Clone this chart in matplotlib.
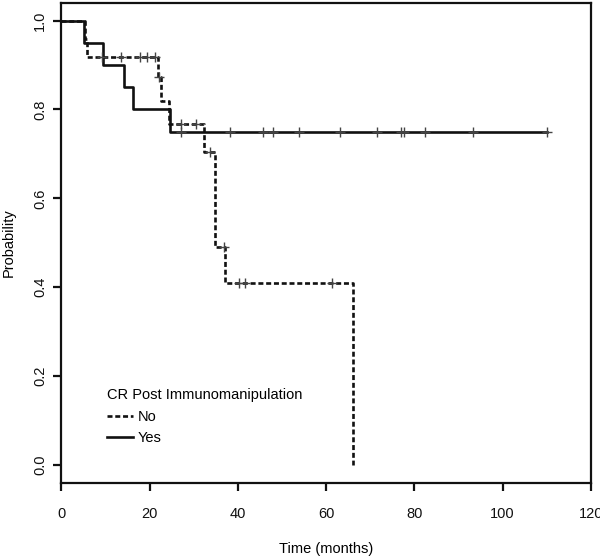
import numpy as np
import matplotlib
matplotlib.use('Agg')
import matplotlib.pyplot as plt

plt.rcParams['font.family'] = ['Liberation Sans', 'DejaVu Sans']
plt.rcParams['lines.scale_dashes'] = False

# Kaplan-Meier steps
no_times = [5.3, 5.8, 21.9, 22.5, 24.4, 32.3, 34.8, 37.1, 66.0]
no_surv = [0.958, 0.917, 0.873, 0.82, 0.768, 0.704, 0.49, 0.41, 0.0]
no_cens = [9.1, 13.4, 17.7, 19.5, 21.2, 22.2, 27.2, 30.6, 33.6, 36.8,
           40.2, 41.6, 61.4]

yes_times = [5.1, 9.3, 14.2, 16.1, 24.7]
yes_surv = [0.95, 0.90, 0.85, 0.80, 0.75]
yes_end = 110.0
yes_cens = [27.2, 38.3, 45.8, 48.0, 53.9, 63.2, 71.5, 76.9, 77.6, 82.4,
            93.2, 110.0]

x_ticks = [0, 20, 40, 60, 80, 100, 120]
y_ticks = [0.0, 0.2, 0.4, 0.6, 0.8, 1.0]


def surv_at(t, times, surv):
    vals = [1.0] + list(surv)
    idx = np.searchsorted(times, t, side='right')
    return [vals[i] for i in idx]


fig = plt.figure(figsize=(6.0, 5.57), dpi=100)
ax = fig.add_axes([0.1025, 0.133, 0.882, 0.862])

ln_no, = ax.step([0] + no_times, [1.0] + no_surv, where='post',
                 color='#111111', lw=1.9, dashes=(3.6, 2.0))
ln_yes, = ax.step([0] + yes_times + [yes_end], [1.0] + yes_surv + [yes_surv[-1]],
                  where='post', color='#111111', lw=1.9)

ax.plot(no_cens, surv_at(no_cens, no_times, no_surv), ls='none', marker='+',
        ms=7.5, mew=1.0, color='#444444')
ax.plot(yes_cens, surv_at(yes_cens, yes_times, yes_surv), ls='none', marker='+',
        ms=7.5, mew=1.0, color='#444444')

ax.set_xlim(0, 120)
ax.set_ylim(-0.04, 1.04)
ax.set_xticks(x_ticks)
ax.set_xticklabels([str(v) for v in x_ticks])
ax.set_yticks(y_ticks)
ax.set_yticklabels(['%.1f' % v for v in y_ticks], rotation=90, va='center')

for s in ax.spines.values():
    s.set_linewidth(1.6)
    s.set_color('#111111')
ax.tick_params(axis='both', direction='out', length=5.5, width=1.6,
               colors='#111111', labelsize=10.5)
ax.tick_params(axis='x', pad=12)
ax.tick_params(axis='y', pad=5)

ax.set_xlabel('Time (months)', fontsize=10.5, labelpad=15)
ax.set_ylabel('Probability', fontsize=10.5, labelpad=12)

leg = ax.legend([ln_no, ln_yes], ['No', 'Yes'], title='CR Post Immunomanipulation',
                loc='upper left', bbox_to_anchor=(0.086, 0.197), frameon=False,
                fontsize=10.5, title_fontsize=10.5, alignment='left',
                handlelength=1.75, handletextpad=0.35, borderpad=0,
                borderaxespad=0, labelspacing=0.5)

fig.savefig('out.png', dpi=100)
